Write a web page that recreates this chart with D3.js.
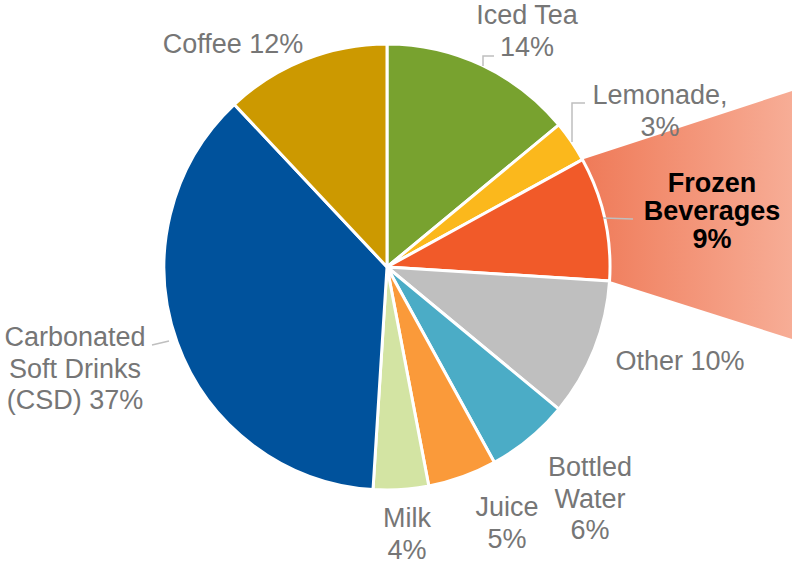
<!DOCTYPE html>
<html>
<head>
<meta charset="utf-8">
<script src="https://cdn.jsdelivr.net/npm/d3@7"></script>
<style>
  body { margin: 0; background: #fff; }
  svg { display: block; font-family: "Liberation Sans", Arial, sans-serif; }
</style>
</head>
<body>
<script>
// drink share data, clockwise from 12 o'clock
var categories = ["Iced Tea", "Lemonade", "Frozen Beverages", "Other", "Bottled Water",
                  "Juice", "Milk", "Carbonated Soft Drinks (CSD)", "Coffee"]
var shares = [14, 3, 9, 10, 6, 5, 4, 37, 12]
var colors = ["#78a22f", "#fbb81c", "#f15a29", "#bfbfbf", "#4bacc6",
              "#fa9a3a", "#d3e4a3", "#00529c", "#cc9900"]

// label text lines and where they sit
var labelLines = [
  ["Iced Tea", "14%"],
  ["Lemonade,", "3%"],
  ["Frozen", "Beverages", "9%"],
  ["Other 10%"],
  ["Bottled", "Water", "6%"],
  ["Juice", "5%"],
  ["Milk", "4%"],
  ["Carbonated", "Soft Drinks", "(CSD) 37%"],
  ["Coffee 12%"]
]
var labelPos = [[527, 24], [660, 104], [712, 192], [680, 370], [590, 476],
                [507, 516], [407, 527], [75, 346], [233, 53]]
// leader lines (only some labels have them)
var leaders = [
  [[483, 66], [483, 56], [494, 56]],
  [[572, 142], [572, 103], [585, 103]],
  [[603, 218], [633, 219]],
  null, null, null, null,
  [[169, 341], [152, 345]],
  null
]

var W = 792, H = 563
var cx = 387, cy = 267, R = 223

var svg = d3.select("body").append("svg")
  .attr("width", W)
  .attr("height", H)

var defs = svg.append("defs")
var grad = defs.append("linearGradient")
  .attr("id", "zoomGrad")
  .attr("x1", "0%").attr("x2", "100%")
  .attr("y1", "0%").attr("y2", "0%")
grad.append("stop").attr("offset", "0%").attr("stop-color", "#ef7a58")
grad.append("stop").attr("offset", "100%").attr("stop-color", "#f7ad96")

var pie = d3.pie().sort(null).value(function(d){ return d })
var arcs = pie(shares)
var arc = d3.arc().innerRadius(0).outerRadius(R)

// zoom wedge behind the frozen beverages slice
var fb = arcs[2]
var p0 = [cx + R * Math.sin(fb.startAngle), cy - R * Math.cos(fb.startAngle)]
var p1 = [cx + R * Math.sin(fb.endAngle), cy - R * Math.cos(fb.endAngle)]
svg.append("path")
  .attr("d", "M" + p0 + "L" + [W, 91] + "L" + [W, 339] + "L" + p1 + "Z")
  .attr("fill", "url(#zoomGrad)")

var g = svg.append("g").attr("transform", "translate(" + cx + "," + cy + ")")

g.selectAll("path.slice")
  .data(arcs)
  .enter()
  .append("path")
  .classed("slice", true)
  .attr("d", arc)
  .attr("fill", function(d, i){ return colors[i] })
  .attr("stroke", "#fff")
  .attr("stroke-width", 3)
  .attr("stroke-linejoin", "round")

var line = d3.line()
svg.selectAll("path.leader")
  .data(leaders.filter(function(d){ return d }))
  .enter()
  .append("path")
  .classed("leader", true)
  .attr("d", line)
  .attr("fill", "none")
  .attr("stroke", "#bfbfbf")
  .attr("stroke-width", 1.5)

var labels = svg.selectAll("text.label")
  .data(categories)
  .enter()
  .append("text")
  .classed("label", true)
  .attr("x", function(d, i){ return labelPos[i][0] })
  .attr("y", function(d, i){ return labelPos[i][1] })
  .attr("text-anchor", "middle")
  .attr("font-size", function(d, i){ return i == 2 ? 27 : 27 })
  .attr("font-weight", function(d, i){ return i == 2 ? "bold" : "normal" })
  .attr("fill", function(d, i){ return i == 2 ? "#000" : "#767676" })

labels.each(function(d, i){
  var t = d3.select(this)
  labelLines[i].forEach(function(s, j){
    t.append("tspan")
      .attr("x", labelPos[i][0])
      .attr("dy", j == 0 ? 0 : (i == 2 ? 28 : 31.5))
      .text(s)
  })
})
</script>
</body>
</html>
